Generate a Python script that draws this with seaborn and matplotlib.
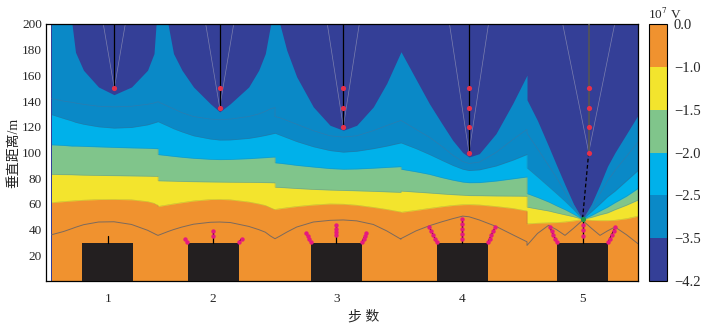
import matplotlib
matplotlib.use("Agg")
import matplotlib.pyplot as plt
import seaborn as sns
from matplotlib.colors import ListedColormap, BoundaryNorm
from matplotlib.cm import ScalarMappable

# ---- values ----
steps = [1, 2, 3, 4, 5]
step_x = [56.3, 161.7, 284.8, 410.8, 531.0]      # building centres
leader_x = [62.8, 168.2, 291.8, 417.5, 537.2]    # downward leader channel
leader_dots = [[150], [150, 135], [150, 135, 120],
               [150, 135, 120, 100], [150, 135, 120, 100]]
leader_fan = [11, 14, 16, 19.5, 26]               # half spread of fan lines at 200 m
tip = (531.0, 48.0)

building_h = 29.5
building_w = 51

up_top = [35.4, 39.0, 43.5, 48.0, 48.0]
up_dots = [[], [34.7, 38.8], [35.5, 38.0, 40.7, 43.3],
           [32.8, 36.7, 40.6, 44.0, 47.9], [35.4, 39.3, 43.2]]
# corner leaders: (outward offset, height)
corner_dots = [[],
               [(0.3, 30.4), (3.0, 33.0)],
               [(0.3, 30.6), (1.8, 33.0), (3.2, 35.0), (4.5, 37.0)],
               [(0.0, 30.0), (1.8, 33.0), (3.6, 36.0), (5.5, 39.0), (7.4, 41.9)],
               [(0.0, 30.0), (1.8, 33.0), (3.6, 36.0), (5.5, 39.0), (7.4, 42.4)]]

levels = [-4.2, -3.5, -2.5, -2.0, -1.5, -1.0, 0.0]
band_colors = ['#343f97', '#0a89c7', '#00b1ea', '#80c58b', '#f3e42d', '#f0922f']

# contour boundaries along the profile (x repeated at panel joins)
xs = [0, 12, 20.5, 24, 32, 47, 62.5, 80, 96, 102.5, 104.5, 106.5,
      106.5, 116.5, 122, 130.5, 142, 158.8, 168.2, 178.8, 197.2, 207.2, 213.8, 219, 223.5,
      223.5, 228.5, 235.2, 245.2, 261.8, 278.5, 291.8, 305.2, 321.8, 335.2, 349.5,
      349.5, 364.5, 377.8, 390, 401.2, 411.2, 417.5, 427.8, 444.5, 461.2, 475.5,
      475.5, 486, 497, 505, 513.5, 522, 531, 540, 548.5, 556, 563.5, 575, 586.5]
z35 = [210, 210, 200, 178, 164, 151, 145, 151, 164, 177, 199, 210,
       210, 200, 177, 164, 151, 138, 131.6, 138, 151, 164, 177, 199, 210,
       210, 199.5, 179.7, 158.9, 135.5, 121.2, 117.3, 121.2, 135.5, 153.8, 178.4,
       178.4, 157, 138.1, 123, 109.5, 100, 96.5, 99.1, 114.7, 138.1, 160.2,
       141, 124.8, 105, 90.2, 74.8, 60, 48, 60, 75, 89.3, 100, 114.5, 129]
z25 = [129.5, 126.5, 124.5, 123.5, 122, 120, 119, 119.5, 121.5, 123, 123.5, 124,
       124, 120.5, 118.5, 116, 113, 110.5, 109.7, 109.8, 111, 112.3, 113.3, 114.2, 115,
       115, 113.5, 111.5, 108.5, 104.5, 101.5, 100.3, 101, 103, 105, 107.5,
       107.5, 103, 98.5, 94, 90, 87, 86, 86.5, 89.5, 94, 98.5,
       88, 81, 73.5, 68, 62, 55.5, 48, 54, 60, 65.5, 70, 78, 86]
z20 = [106, 105.5, 105, 105, 104.8, 104.4, 104, 103.6, 103.3, 103.1, 103, 103,
       98.4, 97.5, 97, 96.3, 95.5, 94.7, 94.5, 94.6, 95.2, 95.7, 96, 96.3, 96.5,
       92, 91.6, 91, 90, 88.7, 87.5, 87, 87.2, 87.8, 88.4, 89,
       87, 85, 83, 80.5, 78.5, 77, 76.5, 76.6, 77.8, 79.5, 81,
       68, 65, 61.5, 58.5, 55.5, 52, 48, 51, 54.5, 57.5, 61, 66, 72]
z15 = [83, 82.8, 82.7, 82.6, 82.4, 82.2, 82, 81.8, 81.6, 81.5, 81.5, 81.5,
       78, 77.8, 77.7, 77.5, 77.3, 77.1, 77, 76.9, 76.8, 76.7, 76.6, 76.5, 76.4,
       73, 72.8, 72.5, 72, 71.3, 70.8, 70.5, 70.2, 69.8, 69.4, 69,
       70, 69.2, 68.5, 67.8, 67.2, 66.8, 66.5, 66.4, 66.2, 66.1, 66,
       57.5, 56, 54.5, 53, 51.5, 50, 48, 49.5, 51.5, 53, 55.5, 59, 63]
z10 = [61, 61.8, 62.3, 62.5, 62.9, 63.4, 63.5, 63.2, 61.8, 60.5, 59.6, 59,
       58, 59.3, 60, 61, 62.3, 63.4, 63.5, 63.2, 61.5, 60, 58.8, 57, 55.5,
       55.7, 56.3, 57, 58, 59.2, 60, 59.8, 59, 57.3, 55.7, 53.7,
       53.5, 55, 56.5, 57.8, 58.8, 59.4, 59.5, 59.2, 58, 56.5, 54.5,
       44.5, 45, 45.3, 45.5, 46, 46.8, 48, 47.2, 47, 47, 47.3, 48.5, 50.5]
# thin contour lines inside the orange and mid-blue bands
c05 = [36, 38.5, 40.8, 41.8, 43.8, 45.9, 46.1, 44, 39.5, 37, 36.2, 35.5,
       35.5, 38.5, 40, 42, 44.2, 45.7, 45.9, 45.5, 42.5, 40, 38, 35, 32.9,
       32.9, 35, 38, 42, 45.9, 47.2, 47.5, 46.8, 44, 39, 32.5,
       33, 39, 43, 46, 48.5, 50.5, 50, 47.5, 42.5, 36, 30.5,
       27.7, 37, 43.3, 40, 35.5, 41, 47.2, 41, 35.5, 39, 42, 36, 29]
c30 = [142, 140, 139, 138.5, 137.5, 136, 135.5, 136, 137.5, 138.5, 139, 139.5,
       139.5, 136, 134, 131, 128, 126, 125.5, 126, 128, 130, 132, 134, 135,
       128, 127, 125, 122, 117, 113, 112, 113, 117, 121, 125,
       125, 118, 112, 105, 98, 93, 91.5, 92.5, 100, 110, 118,
       115, 103, 90, 80.5, 69, 58, 48, 57, 68, 78, 86, 97, 108]

sns.set_style("white")
plt.rcParams['font.family'] = ['Liberation Serif', 'Noto Sans CJK SC']
plt.rcParams['mathtext.fontset'] = 'stix'
plt.rcParams['axes.unicode_minus'] = True

fig = plt.figure(figsize=(7.15, 3.27), dpi=100)
ax = fig.add_axes([46 / 715, 46 / 327, 592 / 715, 257 / 327])
cax = fig.add_axes([649 / 715, 46 / 327, 18 / 715, 257 / 327])

# filled bands, painted from the top level down
ax.fill_between([xs[0], xs[-1]], 0, 200, color=band_colors[0], lw=0, zorder=1)
for col, b in zip(band_colors[1:], [z35, z25, z20, z15, z10]):
    ax.fill_between(xs, 0, b, color=col, lw=0, zorder=1)
for b in [z25, z20, z15, z10]:
    ax.plot(xs, b, color='#5a5a5a', lw=0.4, alpha=0.3, zorder=1.5)

sns.lineplot(x=xs, y=c05, estimator=None, sort=False, ax=ax,
             color='#7b6a5e', lw=0.7, zorder=2)
sns.lineplot(x=xs, y=c30, estimator=None, sort=False, ax=ax,
             color='#4f6f96', lw=0.5, alpha=0.5, zorder=2)

# downward leaders with their fan lines
for i, lx in enumerate(leader_x):
    low = min(leader_dots[i])
    for s in (-1, 1):
        ax.plot([lx, lx + s * leader_fan[i]], [low, 200], color='#8d8fb5',
                lw=0.5, alpha=0.8, zorder=2)
    ax.plot([lx, lx], [low, 200], color='#555555' if i == 4 else 'black',
            lw=1.2 if i == 4 else 0.9, zorder=3)
    sns.scatterplot(x=[lx] * len(leader_dots[i]), y=leader_dots[i], ax=ax,
                    color='#e6304a', s=14, linewidth=0, zorder=5)
ax.plot([leader_x[4], tip[0]], [min(leader_dots[4]), tip[1]], color='black',
        lw=0.9, ls=(0, (3, 2)), zorder=3)

# buildings and upward leaders
ax.bar(step_x, building_h, width=building_w, color='#231f20', linewidth=0, zorder=3)
for i, cx in enumerate(step_x):
    ax.plot([cx, cx], [building_h, up_top[i]], color='black', lw=0.9, zorder=3)
    if up_dots[i]:
        sns.scatterplot(x=[cx] * len(up_dots[i]), y=up_dots[i], ax=ax,
                        color='#e5197f', s=10, linewidth=0, zorder=5)
    for side, corner in ((-1, cx - building_w / 2), (1, cx + building_w / 2)):
        pts = corner_dots[i]
        if not pts:
            continue
        px = [corner + side * d for d, _ in pts]
        py = [h for _, h in pts]
        ax.plot([corner] + px, [building_h] + py, color='black', lw=0.8, zorder=3)
        sns.scatterplot(x=px, y=py, ax=ax, color='#e5197f', s=10, linewidth=0, zorder=5)
sns.scatterplot(x=[tip[0]], y=[tip[1]], ax=ax, color='#1f9a4a', s=14, linewidth=0, zorder=6)

ax.set_xlim(-5.5, 586.5)
ax.set_ylim(0, 200)
ax.set_xticks(step_x)
ax.set_xticklabels([str(s) for s in steps])
ax.set_yticks(range(20, 201, 20))
ax.tick_params(length=0, labelsize=9.5)
ax.tick_params(axis='x', pad=9)
ax.tick_params(axis='y', pad=3)
ax.set_xlabel('步 数', fontsize=10, labelpad=3)
ax.xaxis.label.set_x((364 - 46) / 592)
ax.set_ylabel('垂直距离/m', fontsize=10, labelpad=1)
for sp in ax.spines.values():
    sp.set_color('black')
    sp.set_linewidth(0.9)

# discrete colour bar
cmap = ListedColormap(band_colors)
norm = BoundaryNorm(levels, cmap.N)
cb = fig.colorbar(ScalarMappable(norm=norm, cmap=cmap), cax=cax,
                  spacing='uniform', ticks=levels)
cb.ax.set_yticklabels([f"{v:.1f}".replace('-', '\u2212') for v in levels])
cb.ax.tick_params(length=0, labelsize=10.5, pad=5)
cb.outline.set_linewidth(0.8)
cb.outline.set_edgecolor('black')
fig.text(648 / 715, 1 - 19 / 327, '10$^{7}$ V', fontsize=9.5, ha='left', va='baseline')

fig.savefig('out.png', dpi=100)
